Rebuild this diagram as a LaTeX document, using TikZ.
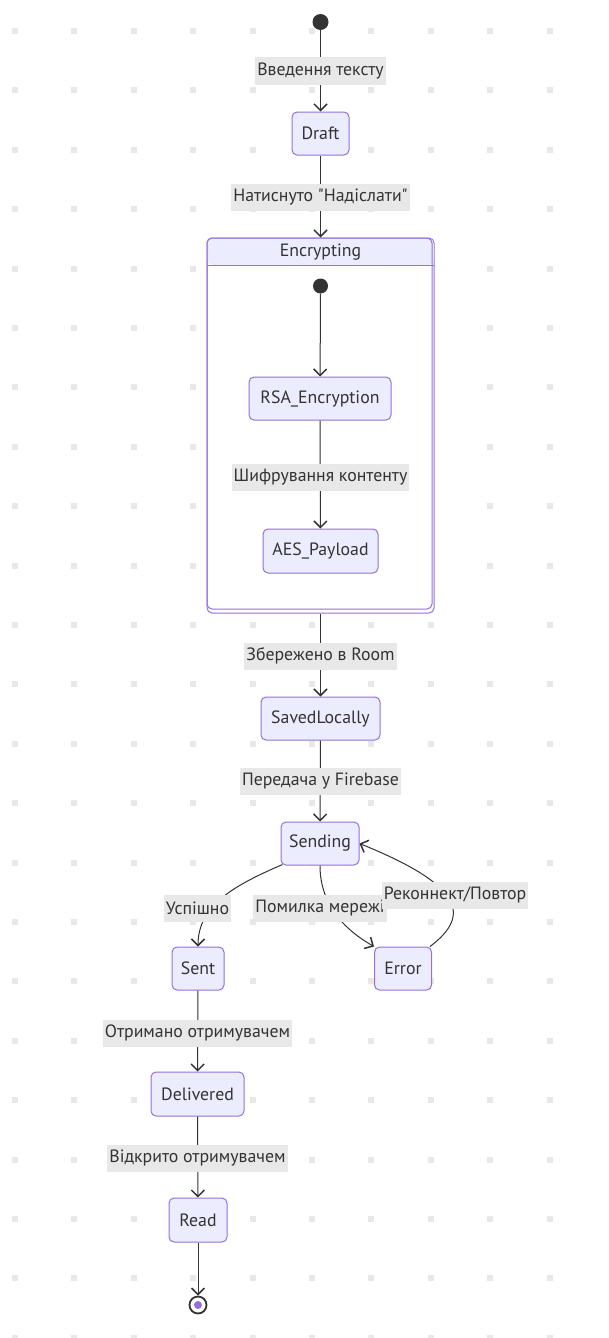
\documentclass[tikz,border=0pt]{standalone}
\usepackage{fontspec}
\setmainfont{PT Sans}[Ligatures=TeXOff]
\usetikzlibrary{arrows.meta}
\definecolor{nodefill}{HTML}{ECECFF}
\definecolor{nodeline}{HTML}{9370DB}
\definecolor{ink}{HTML}{333333}
\definecolor{labelbg}{HTML}{E8E8E8}
\definecolor{dotgrey}{HTML}{E8E8E8}
\begin{document}
\begin{tikzpicture}[x=1pt,y=-1pt,
  font=\fontsize{17.8}{20}\selectfont,
  state/.style={draw=nodeline, fill=nodefill, line width=1pt, rounded corners=5pt,
    minimum height=43pt, inner sep=0pt, text=ink},
  elabel/.style={fill=labelbg, text=ink, inner xsep=2pt, inner ysep=0pt,
    minimum height=27pt},
  trans/.style={draw=ink, line width=1pt,
    -{Straight Barb[length=6.5pt,width=13pt,line width=1.5pt]}},
  startdot/.style={circle, fill=ink, minimum size=16pt, inner sep=0pt}]

\useasboundingbox (0,0) rectangle (608,1338);

% dotted grid in the background
\foreach \i in {0,...,9}
  \foreach \j in {0,...,22}
    \fill[dotgrey] ({15+59.4*\i},{31+59.4*\j}) +(-3,-3) rectangle +(3,3);

% composite state
\node[draw=nodeline, fill=white, line width=1pt, rounded corners=5pt,
  minimum width=227pt, minimum height=375pt, inner sep=0pt] (enc) at (320.5,425.5) {};
\fill[nodefill, rounded corners=5pt] (207.5,265) |- (433.5,238.5) -- (433.5,265) -- cycle;
\draw[nodeline, line width=1pt] (207,265) -- (434,265);
\draw[nodeline, line width=1pt, rounded corners=5pt] (207,238) rectangle (432,609);
\node[text=ink] (enctitle) at (320.5,252) {Encrypting};

% states
\node[startdot] (start) at (320.5,22) {};
\node[state, minimum width=57pt] (draft) at (320.5,133.5) {Draft};
\node[startdot, minimum size=15pt] (innerstart) at (320.5,286) {};
\node[state, minimum width=142pt] (rsa) at (320,398.5) {RSA\_Encryption};
\node[state, minimum width=115pt, minimum height=44pt] (aes) at (320.5,551) {AES\_Payload};
\node[state, minimum width=119pt] (saved) at (320.5,718.5) {SavedLocally};
\node[state, minimum width=78pt] (sending) at (320,843.5) {Sending};
\node[state, minimum width=52pt] (sent) at (198,968.5) {Sent};
\node[state, minimum width=57pt] (error) at (403,968.5) {Error};
\node[state, minimum width=93pt, minimum height=44pt] (delivered) at (197.5,1094) {Delivered};
\node[state, minimum width=58pt, minimum height=44pt] (read) at (198,1220) {Read};
\node[circle, draw=ink, line width=1.8pt, fill=white, minimum size=17pt, inner sep=0pt] (end) at (198,1305) {};
\fill[nodeline] (end.center) circle (4pt);

% transitions
\draw[trans] (start) -- (draft);
\draw[trans] (draft) -- (enc.north);
\draw[trans] (innerstart) -- (rsa);
\draw[trans] (rsa) -- (aes);
\draw[trans] (enc.south) -- (saved);
\draw[trans] (saved) -- (sending);
\draw[trans] (sending.south west) ++(2,-1) .. controls (235,885) and (198,905) .. (sent.north);
\draw[trans] (sending.south) .. controls (320,905) and (345,930) .. (error.north west);
\draw[trans] (error.north east) ++(-2,0) .. controls (472,915) and (462,885) .. (sending.east);
\draw[trans] (sent) -- (delivered);
\draw[trans] (delivered) -- (read);
\draw[trans] (read) -- (end);

% transition labels
\node[elabel] (l1) at (320.5,71) {Введення тексту};
\node[elabel] (l2) at (320.5,197) {Натиснуто "Надіслати"};
\node[elabel] (l3) at (320.5,477) {Шифрування контенту};
\node[elabel] (l4) at (320.5,656) {Збережено в Room};
\node[elabel] (l5) at (320.5,781) {Передача у Firebase};
\node[elabel] (l6) at (197.5,908) {Успішно};
\node[elabel] (l7) at (320,908) {Помилка мережі};
\node[elabel] (l8) at (455,895) {Реконнект/Повтор};
\node[elabel] (l9) at (197.5,1033) {Отримано отримувачем};
\node[elabel] (l10) at (197.5,1158) {Відкрито отримувачем};
\end{tikzpicture}
\end{document}
